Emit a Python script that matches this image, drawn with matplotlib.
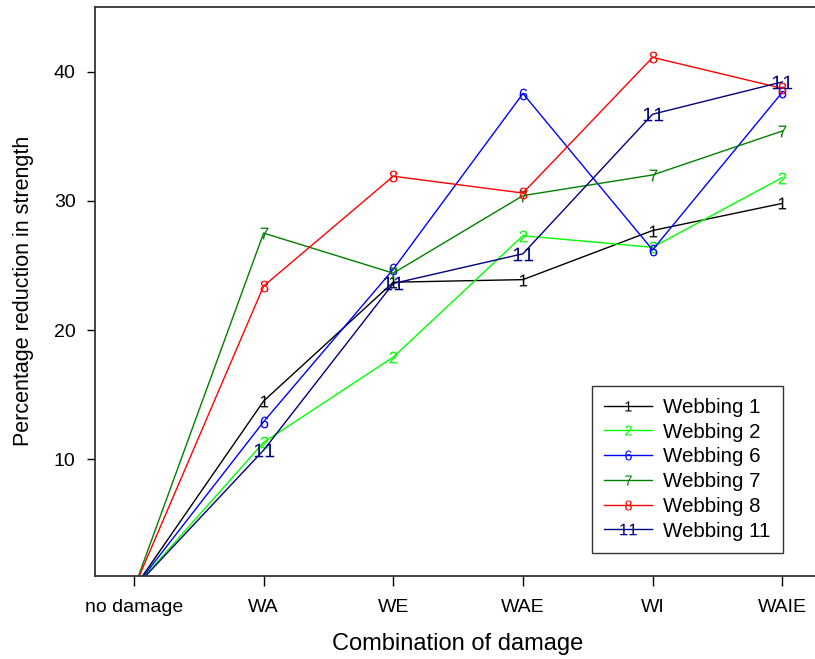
import matplotlib
matplotlib.use('Agg')
import matplotlib.pyplot as plt
import numpy as np

plt.rcParams['font.family'] = ['Liberation Sans', 'DejaVu Sans']
plt.rcParams['mathtext.fontset'] = 'custom'
plt.rcParams['mathtext.rm'] = 'Liberation Sans'
plt.rcParams['mathtext.it'] = 'Liberation Sans'

# damage combinations along the x axis
categories = ['no damage', 'WA', 'WE', 'WAE', 'WI', 'WAIE']

# percentage reduction in strength for each webbing
webbing_1 = [0, 14.5, 23.7, 23.9, 27.7, 29.8]
webbing_2 = [0, 11.3, 17.9, 27.3, 26.4, 31.8]
webbing_6 = [0, 12.9, 24.7, 38.3, 26.2, 38.4]
webbing_7 = [0, 27.5, 24.4, 30.4, 32.0, 35.4]
webbing_8 = [0, 23.4, 31.9, 30.6, 41.1, 38.7]
webbing_11 = [0, 10.7, 23.6, 25.9, 36.7, 39.2]

series = [
    ('1', 'Webbing 1', webbing_1, 'black'),
    ('2', 'Webbing 2', webbing_2, '#00ff00'),
    ('6', 'Webbing 6', webbing_6, '#0000ff'),
    ('7', 'Webbing 7', webbing_7, '#008000'),
    ('8', 'Webbing 8', webbing_8, '#ff0000'),
    ('11', 'Webbing 11', webbing_11, '#000080'),
]

fig = plt.figure(figsize=(8.15, 6.59), dpi=100)
ax = fig.add_axes([0.1166, 0.1267, 0.891, 0.8627])

x = np.arange(len(categories))
for tag, label, vals, col in series:
    ms = 14 if len(tag) > 1 else 8.5
    ax.plot(x, vals, color=col, linewidth=1.0, marker=f'$\\mathrm{{{tag}}}$',
            markersize=ms, markeredgewidth=0, label=label)

ax.set_xlim(-0.3, 5.3)
ax.set_ylim(1, 45)
ax.set_xticks(x)
ax.set_xticklabels(categories, fontsize=14)
ax.set_yticks([10, 20, 30, 40])
ax.tick_params(axis='y', labelsize=14, direction='out', length=6, width=1, pad=8)
ax.tick_params(axis='x', direction='out', length=7, width=1, pad=10)

for side in ['left', 'bottom', 'top', 'right']:
    ax.spines[side].set_linewidth(1.3)
    ax.spines[side].set_color('#333333')

ax.set_xlabel('Combination of damage', fontsize=17, labelpad=12)
ax.set_ylabel('Percentage reduction in strength', fontsize=15.5, labelpad=14)

leg = ax.legend(loc='lower left', bbox_to_anchor=(592 / 815, (659 - 553) / 659),
                bbox_transform=fig.transFigure, fontsize=14.8, frameon=True,
                fancybox=False, handlelength=2.3, handletextpad=0.55,
                labelspacing=0.28, borderpad=0.6, borderaxespad=0,
                markerscale=0.85)
leg.get_frame().set_edgecolor('black')
leg.get_frame().set_linewidth(1.0)

fig.savefig('out.png', dpi=100)
